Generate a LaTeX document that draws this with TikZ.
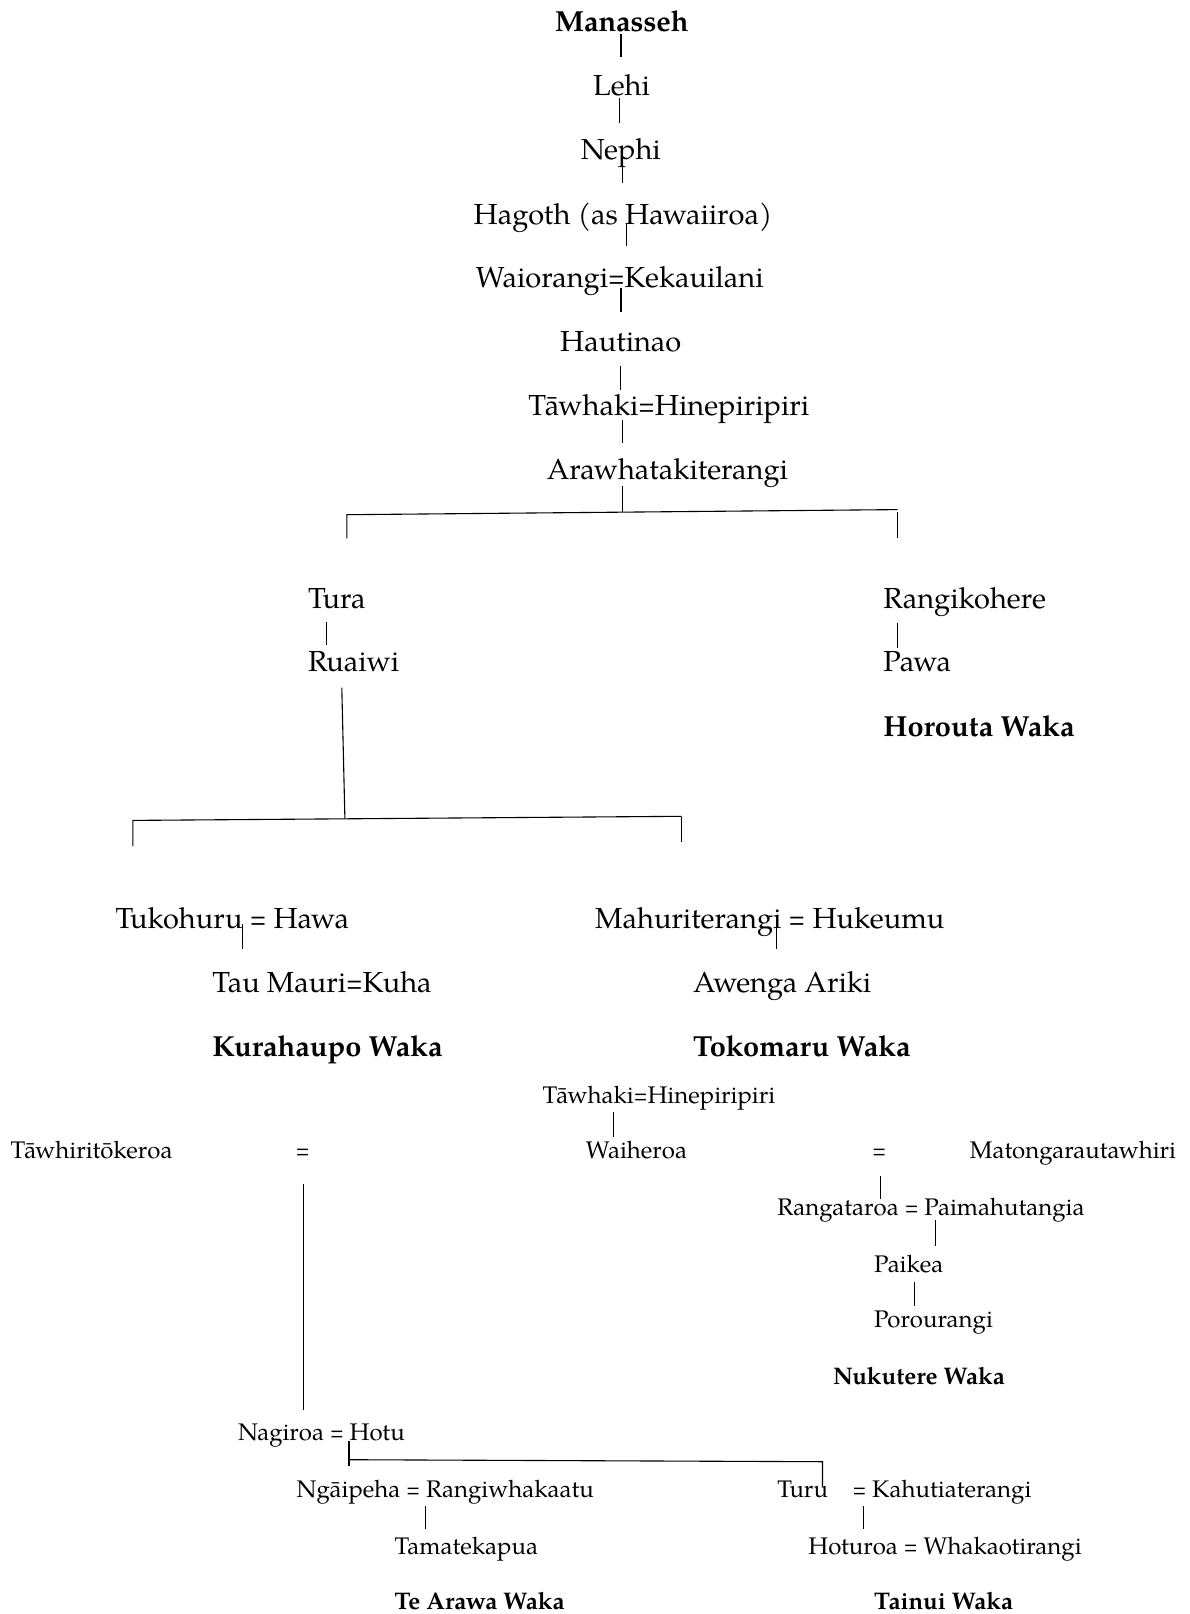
\documentclass[tikz,border=0pt]{standalone}
\usepackage{fontspec}
\usepackage{graphicx}
\setmainfont{TeX Gyre Pagella}
\newcommand{\sq}{\scalebox{0.75}[1]{=}}
\begin{document}
\begin{tikzpicture}[x=1pt,y=-1pt,
  big/.style={anchor=base west,inner sep=0pt,font=\fontsize{29}{34}\selectfont},
  bigb/.style={big,font=\fontsize{29}{34}\selectfont\bfseries},
  sml/.style={anchor=base west,inner sep=0pt,font=\fontsize{24}{28}\selectfont},
  smlb/.style={sml,font=\fontsize{24}{28}\selectfont\bfseries},
  eqc/.style={anchor=base,inner sep=0pt,font=\fontsize{24}{28}\selectfont},
  ln/.style={line width=1.1pt}]
\useasboundingbox (0,0) rectangle (1189,1614);
% upper chain
\node[bigb] (manasseh) at (554.8,31.6) {Manasseh};
\node[big] (lehi) at (592.9,95.4) {Lehi};
\node[big] (nephi) at (580.6,159.3) {Nephi};
\node[big] (hagoth) at (473.5,224.1) {Hagoth (as Hawaiiroa)};
\node[big] (waiorangi) at (475.6,287.9) {Waiorangi\sq Kekauilani};
\node[big] (hautinao) at (560.0,351.8) {Hautinao};
\node[big] (tawhaki) at (528.1,415.6) {Tāwhaki\sq Hinepiripiri};
\node[big] (arawhata) at (546.6,479.4) {Arawhatakiterangi};
\node[big] (tura) at (307.8,608.1) {Tura};
\node[big] (rangikohere) at (883.2,608.1) {Rangikohere};
\node[big] (ruaiwi) at (307.8,671.9) {Ruaiwi};
\node[big] (pawa) at (883.2,671.9) {Pawa};
\node[bigb] (horouta) at (883.2,736.8) {Horouta Waka};
\node[big] (tukohuru) at (115.3,928.2) {Tukohuru \sq{} Hawa};
\node[big] (mahuri) at (595.0,928.2) {Mahuriterangi \sq{} Hukeumu};
\node[big] (taumauri) at (212.1,992.0) {Tau Mauri\sq Kuha};
\node[big] (awenga) at (692.8,992.0) {Awenga Ariki};
\node[bigb] (kurahaupo) at (212.1,1056.9) {Kurahaupo Waka};
\node[bigb] (tokomaru) at (692.8,1056.9) {Tokomaru Waka};
% lower section
\node[sml] (tawhakib) at (542.5,1103.3) {Tāwhaki\sq Hinepiripiri};
\node[sml] (tawhiri) at (10.3,1158.9) {Tāwhiritōkeroa};
\node[eqc] (eqa) at (302.6,1158.9) {\sq};
\node[sml] (waiheroa) at (585.7,1158.9) {Waiheroa};
\node[eqc] (eqb) at (879.1,1158.9) {\sq};
\node[sml] (matonga) at (969.7,1158.9) {Matongarautawhiri};
\node[sml] (rangataroa) at (777.2,1215.5) {Rangataroa \sq{} Paimahutangia};
\node[sml] (paikea) at (874.0,1272.1) {Paikea};
\node[sml] (porou) at (874.0,1327.7) {Porourangi};
\node[smlb] (nukutere) at (832.8,1384.3) {Nukutere Waka};
\node[sml] (nagiroa) at (237.8,1440.9) {Nagiroa \sq{} Hotu};
\node[sml] (ngaipeha) at (296.5,1497.5) {Ngāipeha \sq{} Rangiwhakaatu};
\node[sml] (turu) at (777.2,1497.5) {Turu};
\node[sml] (kahuti) at (852.3,1497.5) {\sq{} Kahutiaterangi};
\node[sml] (tamate) at (394.3,1554.1) {Tamatekapua};
\node[sml] (hoturoa) at (808.1,1554.1) {Hoturoa \sq{} Whakaotirangi};
\node[smlb] (tearawa) at (394.3,1609.7) {Te Arawa Waka};
\node[smlb] (tainui) at (874.0,1609.7) {Tainui Waka};
% connector coordinates
\coordinate (c1a) at (621,34); \coordinate (c1b) at (621,57);
\coordinate (c2a) at (619.7,98); \coordinate (c2b) at (619.7,123);
\coordinate (c3a) at (622.3,166); \coordinate (c3b) at (622.3,183);
\coordinate (c4a) at (626.7,223); \coordinate (c4b) at (626.7,246);
\coordinate (c5a) at (621,288); \coordinate (c5b) at (621,312);
\coordinate (c6a) at (620.7,366); \coordinate (c6b) at (620.7,390);
\coordinate (c7a) at (622.7,420); \coordinate (c7b) at (622.7,443);
\coordinate (c8a) at (622.7,486); \coordinate (c8b) at (622.7,511.8);
\coordinate (c9a) at (326.3,621.8); \coordinate (c9b) at (326.3,645.4);
\coordinate (c10a) at (897.6,622.8); \coordinate (c10b) at (897.6,647.5);
\coordinate (c11a) at (341.8,687.6); \coordinate (c11b) at (344.9,818.6);
\coordinate (c12a) at (242.9,924.4); \coordinate (c12b) at (242.9,949.1);
\coordinate (c13a) at (776.2,924.4); \coordinate (c13b) at (776.2,949.1);
\coordinate (c14a) at (613.5,1111.8); \coordinate (c14b) at (613.5,1136.5);
\coordinate (c15a) at (880.1,1175.6); \coordinate (c15b) at (880.1,1199.3);
\coordinate (c16a) at (935.7,1219.8); \coordinate (c16b) at (935.7,1245.6);
\coordinate (c17a) at (914.1,1281.6); \coordinate (c17b) at (914.1,1306.3);
\coordinate (c18a) at (303.7,1183.8); \coordinate (c18b) at (303.7,1410.3);
\coordinate (c19a) at (349,1441.2); \coordinate (c19b) at (349,1465.9);
\coordinate (c20a) at (425.1,1506); \coordinate (c20b) at (425.1,1528.7);
\coordinate (c21a) at (863.7,1506); \coordinate (c21b) at (863.7,1528.7);
\coordinate (c22a) at (897.6,512); \coordinate (c22b) at (897.6,538.4);
\coordinate (c23a) at (681.5,817.4); \coordinate (c23b) at (681.5,842.1);
\coordinate (bar1l) at (346.9,514.7); \coordinate (bar1r) at (897.6,509.6);
\coordinate (bar1lt) at (346.9,538.4);
\coordinate (bar2l) at (132.8,820.4); \coordinate (bar2r) at (681.5,816.3);
\coordinate (bar2lt) at (132.8,846.2);
\coordinate (bar3l) at (349,1459.7); \coordinate (bar3r) at (822.5,1461.7);
\coordinate (bar3rt) at (822.5,1486.5);
% connectors
\foreach \p in {c1,c2,c3,c4,c5,c6,c7,c8,c9,c10,c11,c12,c13,c14,c15,c16,c17,c18,c19,c20,c21,c22,c23}
  \draw[ln] (\p a) -- (\p b);
\draw[ln] (bar1lt) -- (bar1l) -- (bar1r);
\draw[ln] (bar2lt) -- (bar2l) -- (bar2r);
\draw[ln] (bar3l) -- (bar3r) -- (bar3rt);
\end{tikzpicture}
\end{document}
